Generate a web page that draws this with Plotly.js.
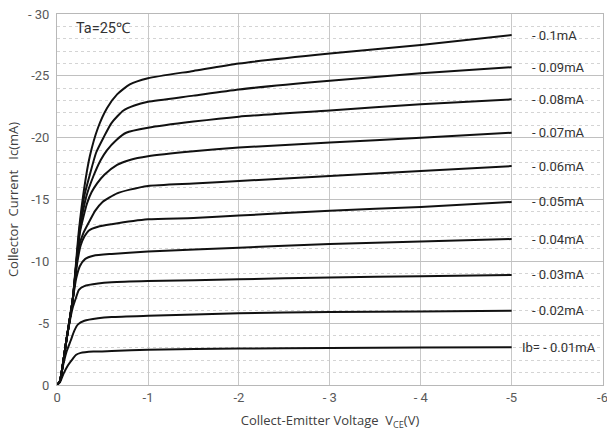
<!DOCTYPE html>
<html>
<head>
<meta charset="utf-8">
<script src="https://cdn.plot.ly/plotly-3.0.1.min.js"></script>
<style>html,body{margin:0;padding:0;background:#fff;}#chart{width:607px;height:436px;}</style>
</head>
<body>
<div id="chart"></div>
<script>
const seriesLabels = ["Ib= - 0.01mA","- 0.02mA","- 0.03mA","- 0.04mA","- 0.05mA","- 0.06mA","- 0.07mA","- 0.08mA","- 0.09mA","- 0.1mA"];

const vce01 = [0,-0.03,-0.07,-0.12,-0.17,-0.21,-0.26,-0.4,-0.6,-1,-2,-3,-4,-5];
const ic01  = [0,-0.2,-0.9,-1.6,-2.1,-2.45,-2.6,-2.7,-2.75,-2.85,-2.95,-3.0,-3.03,-3.05];

const vce02 = [0,-0.03,-0.06,-0.1,-0.15,-0.19,-0.23,-0.3,-0.45,-0.6,-1,-2,-3,-4,-5];
const ic02  = [0,-0.3,-1.4,-2.6,-3.6,-4.4,-4.9,-5.2,-5.4,-5.5,-5.6,-5.8,-5.9,-5.95,-6.0];

const vce03 = [0,-0.03,-0.06,-0.1,-0.17,-0.21,-0.24,-0.3,-0.45,-0.6,-1,-2,-3,-4,-5];
const ic03  = [0,-0.3,-1.5,-3.5,-6.2,-7.1,-7.7,-8.0,-8.2,-8.3,-8.4,-8.55,-8.7,-8.8,-8.9];

const vce04 = [0,-0.03,-0.06,-0.1,-0.17,-0.21,-0.25,-0.31,-0.4,-0.6,-1,-2,-3,-4,-5];
const ic04  = [0,-0.3,-1.5,-3.5,-6.8,-8.6,-9.6,-10.2,-10.45,-10.6,-10.8,-11.1,-11.4,-11.6,-11.8];

const vce05 = [0,-0.03,-0.06,-0.1,-0.17,-0.22,-0.26,-0.3,-0.35,-0.45,-0.6,-1,-1.5,-2,-3,-4,-5];
const ic05  = [0,-0.3,-1.5,-3.5,-6.8,-9.8,-11.3,-12.0,-12.5,-12.8,-13.0,-13.4,-13.5,-13.7,-14.1,-14.4,-14.8];

const vce06 = [0,-0.03,-0.06,-0.1,-0.17,-0.24,-0.29,-0.36,-0.42,-0.5,-0.66,-0.8,-1,-1.5,-2,-3,-4,-5];
const ic06  = [0,-0.3,-1.5,-3.5,-6.8,-11.2,-12.3,-13.3,-14.1,-14.8,-15.5,-15.8,-16.1,-16.3,-16.5,-16.9,-17.3,-17.7];

const vce07 = [0,-0.03,-0.06,-0.1,-0.17,-0.25,-0.29,-0.33,-0.38,-0.44,-0.52,-0.66,-0.8,-1,-1.5,-2,-3,-4,-5];
const ic07  = [0,-0.3,-1.5,-3.5,-6.8,-12.3,-13.6,-14.7,-15.6,-16.3,-17.0,-17.8,-18.2,-18.5,-18.9,-19.2,-19.6,-20.0,-20.4];

const vce08 = [0,-0.03,-0.06,-0.1,-0.17,-0.25,-0.32,-0.4,-0.48,-0.55,-0.65,-0.76,-1,-1.5,-2,-3,-4,-5];
const ic08  = [0,-0.3,-1.5,-3.5,-6.8,-12.5,-15.2,-16.9,-18.2,-19.0,-19.8,-20.4,-20.8,-21.3,-21.7,-22.2,-22.7,-23.1];

const vce09 = [0,-0.03,-0.06,-0.1,-0.17,-0.25,-0.3,-0.36,-0.43,-0.51,-0.6,-0.73,-0.85,-1,-1.5,-2,-3,-4,-5];
const ic09  = [0,-0.3,-1.5,-3.5,-6.8,-12.8,-15.3,-17.0,-18.8,-20.0,-21.2,-22.2,-22.6,-22.9,-23.4,-23.9,-24.6,-25.2,-25.7];

const vce10 = [0,-0.03,-0.06,-0.1,-0.17,-0.24,-0.3,-0.36,-0.45,-0.55,-0.66,-0.8,-1,-1.5,-2,-3,-4,-5];
const ic10  = [0,-0.3,-1.5,-3.5,-6.8,-12.5,-16.0,-18.5,-20.8,-22.4,-23.5,-24.3,-24.8,-25.4,-26.0,-26.8,-27.5,-28.3];

const xTickVals = [0,-1,-2,-3,-4,-5,-6];
const xTickText = ["0","-1","-2","- 3","- 4","-5","-6"];
const yTickVals = [0,-5,-10,-15,-20,-25,-30];
const yTickText = ["0","-5","-10","-15","-20","-25","- 30"];

const allX = [vce01,vce02,vce03,vce04,vce05,vce06,vce07,vce08,vce09,vce10];
const allY = [ic01,ic02,ic03,ic04,ic05,ic06,ic07,ic08,ic09,ic10];

const traces = allX.map((xs,i)=>({
  x: xs, y: allY[i], type:'scatter', mode:'lines', name: seriesLabels[i],
  line:{color:'#111111', width:2, shape:'spline', smoothing:0.6},
  hoverinfo:'skip', showlegend:false
}));

const annotations = allY.map((ys,i)=>({
  x: -5.2, y: ys[ys.length-1], xref:'x', yref:'y', xanchor:'left', yanchor:'middle',
  text: seriesLabels[i], showarrow:false,
  font:{family:'Roboto, Arial, sans-serif', size:13, color:'#333333'}
}));
annotations[0].x = -5.09;
annotations.push({
  x: 0.032, y: 0.962, xref:'paper', yref:'paper', xanchor:'left', yanchor:'middle',
  text:'Ta=25℃', showarrow:false,
  font:{family:'Roboto, Arial, sans-serif', size:14.5, color:'#333333'}
});

const layout = {
  width:607, height:436,
  margin:{l:57, r:4, t:14, b:51},
  paper_bgcolor:'#ffffff', plot_bgcolor:'#ffffff',
  showlegend:false,
  xaxis:{
    range:[0.001,-6.005], tickvals:xTickVals, ticktext:xTickText,
    ticklabeloverflow:'allow',
    showgrid:true, gridcolor:'#c8c8c8', gridwidth:1,
    zeroline:false, showline:true, linecolor:'#b8b8b8', mirror:true,
    ticks:'', tickfont:{family:'Roboto, Arial, sans-serif', size:13, color:'#595959'},
    title:{text:'Collect-Emitter Voltage  V<sub>CE</sub>(V)', standoff:12,
      font:{family:'Open Sans, Roboto, Arial, sans-serif', size:13, color:'#404040'}}
  },
  yaxis:{
    range:[0,-30], tickvals:yTickVals, ticktext:yTickText,
    ticklabeloverflow:'allow',
    showgrid:true, gridcolor:'#c0c0c0', gridwidth:1,
    minor:{dtick:1, showgrid:true, gridcolor:'#d4d4d4', griddash:'dot', gridwidth:1, ticks:''},
    zeroline:false, showline:true, linecolor:'#b8b8b8', mirror:true,
    ticks:'', ticklabelstandoff:4, tickfont:{family:'Roboto, Arial, sans-serif', size:13, color:'#595959'},
    title:{text:'Collector  Current   Ic(mA)', standoff:6,
      font:{family:'Open Sans, Roboto, Arial, sans-serif', size:13, color:'#404040'}}
  },
  annotations: annotations
};

Plotly.newPlot('chart', traces, layout, {displayModeBar:false, staticPlot:true});
</script>
</body>
</html>
